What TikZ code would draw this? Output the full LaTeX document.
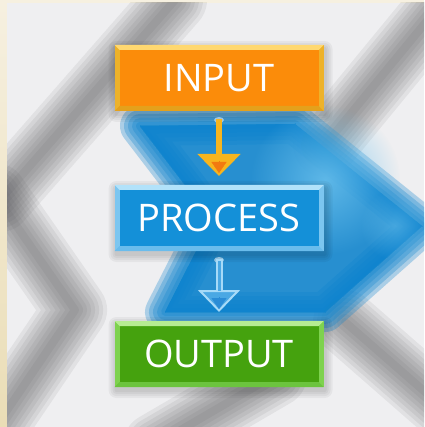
\documentclass[tikz,border=0pt]{standalone}
\usepackage{fontspec}
\setmainfont{Open Sans}
\usetikzlibrary{arrows.meta,backgrounds,fadings}

\definecolor{creamtop}{HTML}{F6F0E0}
\definecolor{creambot}{HTML}{EADDB6}
\definecolor{paper}{HTML}{EFEFF1}
\definecolor{band}{HTML}{56565A}
\definecolor{chevblue}{HTML}{0E84CE}
\definecolor{chevlight}{HTML}{6CC2EE}
\definecolor{inmain}{HTML}{FB8C0A}
\definecolor{inbevel}{HTML}{EDB22A}
\definecolor{inhigh}{HTML}{FFD870}
\definecolor{indeep}{HTML}{E4A11C}
\definecolor{procmain}{HTML}{1490D8}
\definecolor{procbevel}{HTML}{7CC6F0}
\definecolor{prochigh}{HTML}{B2E2FA}
\definecolor{procdeep}{HTML}{6ABCEC}
\definecolor{outmain}{HTML}{45A20E}
\definecolor{outbevel}{HTML}{7ED24E}
\definecolor{outhigh}{HTML}{B6EC92}
\definecolor{outdeep}{HTML}{6CC43E}
\definecolor{arrowgold}{HTML}{F7B51E}
\definecolor{arroworange}{HTML}{F27A10}
\definecolor{arrowice}{HTML}{A6DAF8}
\definecolor{arrowsea}{HTML}{4AA8E4}
\definecolor{arrowdeep}{HTML}{2A8CD6}

\tikzfading[name=glow, inner color=transparent!0, outer color=transparent!100]

\tikzset{
  flowbox/.style={minimum width=204pt, minimum height=61pt, inner sep=0pt,
    line width=5pt, text=white, font=\fontsize{38}{38}\selectfont},
  inbox/.style={flowbox, fill=inmain, draw=inbevel},
  procbox/.style={flowbox, fill=procmain, draw=procbevel},
  outbox/.style={flowbox, fill=outmain, draw=outbevel},
  goldarrow/.style={line width=6.5pt, draw=arrowgold, shorten <=8pt, shorten >=9pt,
    -{Triangle[length=22pt,width=42pt,fill=arrowgold]}},
  icearrow/.style={line width=7pt, draw=arrowice, shorten <=8pt, shorten >=9pt,
    -{Triangle[length=22pt,width=42pt,fill=arrowsea,line width=2pt]}}
}

% soft grey band behind everything
\newcommand\blurband[1]{%
  \foreach \w in {64,56,...,8}
    \draw[band, line width=\w pt, opacity=0.09, line cap=round, line join=round] #1;
}

\begin{document}
\begin{tikzpicture}[x=1pt,y=-1pt]
  \useasboundingbox (0,0) rectangle (424,427);

  % boxes
  \node[inbox] (input) at (219,78) {INPUT};
  \node[procbox] (process) at (219,218) {PROCESS};
  \node[outbox] (output) at (219,354) {OUTPUT};

  % bevels
  \foreach \b/\h/\d in {input/inhigh/indeep, process/prochigh/procdeep, output/outhigh/outdeep} {
    \fill[\h] (\b.north west) -- (\b.north east) -- ([shift={(-5,5)}]\b.north east) -- ([shift={(5,5)}]\b.north west) -- cycle;
    \fill[\d] (\b.south west) -- (\b.south east) -- ([shift={(-5,-5)}]\b.south east) -- ([shift={(5,-5)}]\b.south west) -- cycle;
  }

  % arrows
  \fill[white, opacity=0.5] ([shift={(0,9)}]input.south) ellipse (5 and 3);
  \draw[goldarrow] (input) -- (process);
  \draw[line width=0.4pt, draw=arroworange, shorten >=12pt,
    -{Triangle[length=11pt,width=15pt,fill=arroworange]}] ([shift={(0,-24)}]process.north) -- (process.north);
  \fill[white, opacity=0.5] ([shift={(0,9)}]process.south) ellipse (5 and 3);
  \draw[icearrow] (process) -- (output);
  \draw[line width=3pt, draw=arrowsea, shorten <=10pt, shorten >=30pt] (process) -- (output);
  \draw[line width=0.4pt, draw=arrowdeep, shorten >=12pt,
    -{Triangle[length=11pt,width=15pt,fill=arrowdeep]}] ([shift={(0,-24)}]output.north) -- (output.north);

  \begin{scope}[on background layer]
    % frame
    \fill[creamtop] (0,0) rectangle (424,3);
    \shade[top color=creamtop, bottom color=creambot] (0,0) rectangle (7,427);
    \fill[paper] (7,3) rectangle (424,427);
    \begin{scope}
      \clip (7,3) rectangle (424,427);
      % grey bands
      \blurband{(0,200) -- (175,0)}
      \blurband{(-5,195) -- (75,310) -- (-5,428)}
      \blurband{(440,5) -- (325,145)}
      \blurband{(345,322) -- (440,405)}
      \blurband{(155,445) -- (275,375)}
      % blue chevron
      \foreach \w in {40,32,...,0}
        \filldraw[chevblue, line width=\w pt, opacity=0.3, line join=round]
          (140,126) -- (295,124) -- (422,226) -- (325,312) -- (165,312) -- (212,220) -- cycle;
      \fill[chevlight, opacity=0.8, path fading=glow] (325,180) circle (75);
      \fill[chevlight, opacity=0.5, path fading=glow] (395,225) circle (35);
    \end{scope}
    % shadows
    \foreach \b in {input,process,output}
      \foreach \s in {2,4,6,8}
        \fill[black, opacity=0.045, rounded corners=\s pt]
          ([shift={(-\s+2,-\s+4)}]\b.north west) rectangle ([shift={(\s+1,\s+3)}]\b.south east);
  \end{scope}
\end{tikzpicture}
\end{document}
